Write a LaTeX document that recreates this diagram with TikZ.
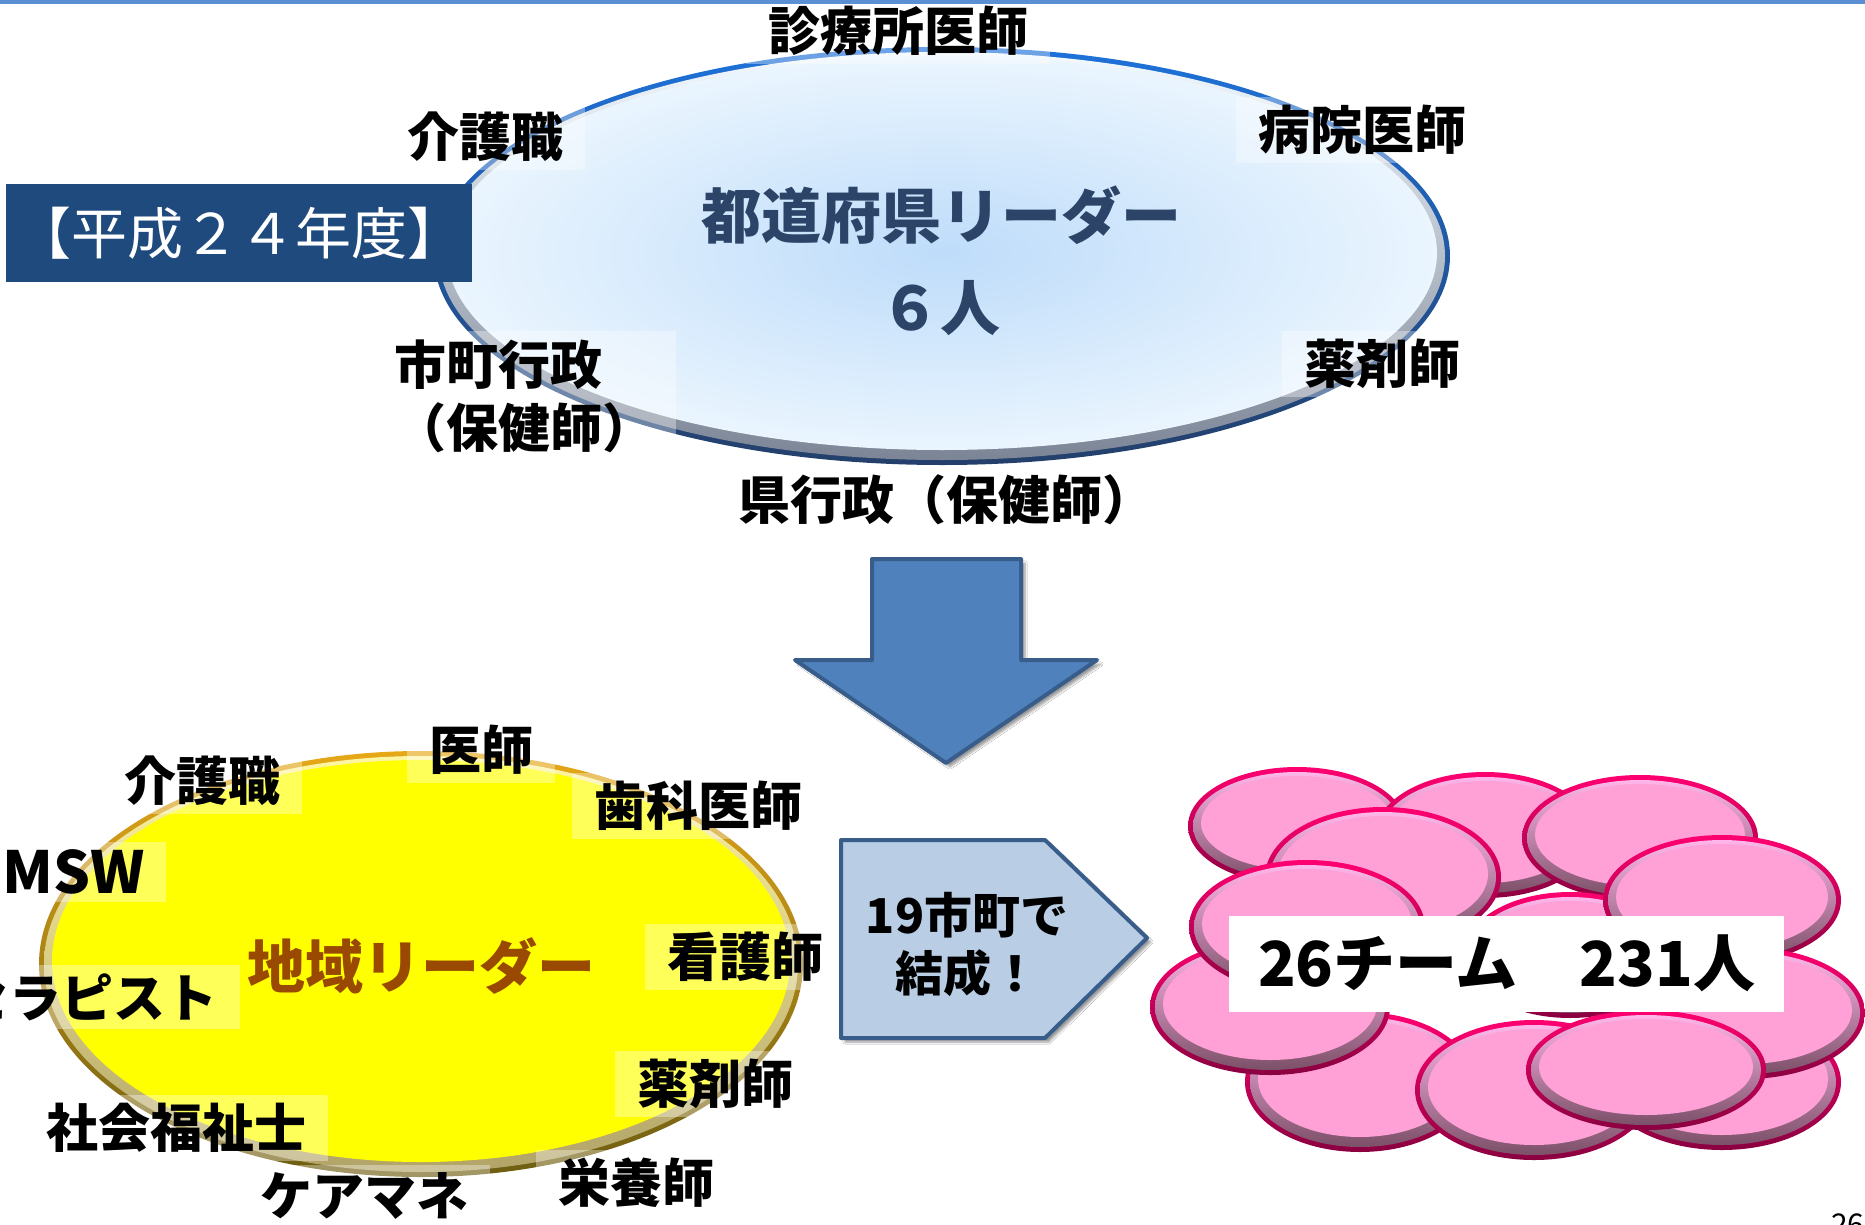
\documentclass[tikz,border=0pt]{standalone}
\usepackage{fontspec}
\setmainfont{Noto Sans CJK JP}
\usetikzlibrary{shadows.blur}
\definecolor{topline}{HTML}{5A8FD4}
\definecolor{blueRimT}{HTML}{1E72DA}
\definecolor{blueRimB}{HTML}{243F6A}
\definecolor{blueBevT}{HTML}{F2F9FF}
\definecolor{blueBevB}{HTML}{7C8596}
\definecolor{blueIn}{HTML}{BEDCFA}
\definecolor{blueOut}{HTML}{EAF5FE}
\definecolor{yelRimT}{HTML}{E6A817}
\definecolor{yelRimB}{HTML}{6E5E12}
\definecolor{yelBevT}{HTML}{FFF6A0}
\definecolor{yelBevB}{HTML}{B2A468}
\definecolor{yelFill}{HTML}{FFFF00}
\definecolor{pinkRimT}{HTML}{FF0070}
\definecolor{pinkRimB}{HTML}{8A0040}
\definecolor{pinkBevT}{HTML}{FFB6EA}
\definecolor{pinkBevB}{HTML}{7C5068}
\definecolor{pinkFill}{HTML}{FFA0D6}
\definecolor{nendo}{HTML}{1F4A7E}
\definecolor{prefText}{HTML}{2B4468}
\definecolor{chiikiText}{HTML}{9A4A00}
\definecolor{arrowFill}{HTML}{4F81BD}
\definecolor{arrowLine}{HTML}{385D8A}
\definecolor{pentFill}{HTML}{B9CDE5}
\newcommand{\bevelell}[6]{%
  \path[top color=#5RimT, bottom color=#5RimB] (#1,#2) ellipse [x radius=#3pt, y radius=#4pt];
  \path[top color=#5BevT, bottom color=#5BevB] (#1,#2) ellipse [x radius=#3pt-5pt, y radius=#4pt-5pt];
  \path[#6] (#1,#2-3) ellipse [x radius=#3pt-13pt, y radius=#4pt-12pt];
}
\newcommand{\pinkell}[4]{\bevelell{#1}{#2}{#3}{#4}{pink}{fill=pinkFill}}
\begin{document}
\begin{tikzpicture}[x=1pt,y=-1pt,
  lbl/.style={font=\bfseries\fontsize{52}{60}\selectfont, text=black, fill=white,
    fill opacity=0.35, text opacity=1, inner xsep=22pt, inner ysep=8pt},
  bigarrow/.style={fill=arrowFill, draw=arrowLine, line width=4pt, line join=round,
    blur shadow={shadow xshift=4pt, shadow yshift=-4pt, shadow opacity=40, shadow blur steps=6}}]
\useasboundingbox (0,0) rectangle (1865,1225);
\fill[white] (0,0) rectangle (1865,1225);

% top ellipse
\bevelell{942}{256}{508}{209}{blue}{inner color=blueIn, outer color=blueOut}
\node[font=\bfseries\fontsize{60}{70}\selectfont, text=prefText] (pref) at (941,215) {都道府県リーダー};
\node[font=\bfseries\fontsize{60}{70}\selectfont, text=prefText] (six) at (940,308) {６人};

\node[lbl] (shinryo) at (898,31) {診療所医師};
\node[lbl] (kaigo1) at (485,137) {介護職};
\node[lbl] (byoin) at (1362,130) {病院医師};
\node[lbl, align=left, anchor=west, font=\bfseries\fontsize{52}{63}\selectfont] (shicho) at (372,396) {市町行政\\（保健師）};
\node[lbl] (yaku1) at (1382,364) {薬剤師};
\node[lbl] (ken) at (946,500) {県行政（保健師）};

\node[fill=nendo, text=white, font=\fontsize{56}{64}\selectfont, minimum width=466pt, minimum height=98pt, inner sep=0pt] (nendo) at (239,233) {【平成２４年度】};

% down arrow
\path[bigarrow] (872,559) -- (1021,559) -- (1021,660) -- (1097,660) -- (946,763) -- (795,660) -- (872,660) -- cycle;

% yellow ellipse
\bevelell{421}{964}{382}{213}{yel}{fill=yelFill}
\node[font=\bfseries\fontsize{58}{66}\selectfont, text=chiikiText] (chiiki) at (421,966) {地域リーダー};

\node[lbl] (ishi) at (481,750) {医師};
\node[lbl] (kaigo2) at (202,781) {介護職};
\node[lbl] (shika) at (698,806) {歯科医師};
\node[lbl, anchor=west, font=\bfseries\fontsize{58}{64}\selectfont] (msw) at (-20,872) {MSW};
\node[lbl, anchor=east] (ther) at (240,997) {セラピスト};
\node[lbl] (kango) at (745,957) {看護師};
\node[lbl] (yaku2) at (715,1084) {薬剤師};
\node[lbl] (shakai) at (176,1128) {社会福祉士};
\node[lbl] (keamane) at (364,1196) {ケアマネ};
\node[lbl] (eiyo) at (636,1183) {栄養師};

% pentagon arrow
\path[bigarrow, fill=pentFill] (841,840) -- (1045,840) -- (1147,938) -- (1045,1038) -- (841,1038) -- cycle;
\node[font=\bfseries\fontsize{48}{58}\selectfont, align=center] (musubi) at (967,945) {19市町で\\結成！};

% pink cluster
\pinkell{1297}{826}{109}{59}
\pinkell{1485}{835}{110}{63}
\pinkell{1640}{838}{118}{63}
\pinkell{1570}{955}{107}{63}
\pinkell{1383}{877}{118}{70}
\pinkell{1722}{900}{119}{65}
\pinkell{1722}{1082}{119}{68}
\pinkell{1745}{1013}{120}{66}
\pinkell{1360}{1082}{115}{70}
\pinkell{1270}{1007}{120}{68}
\pinkell{1307}{927}{118}{67}
\pinkell{1534}{1090}{119}{70}
\pinkell{1646}{1070}{120}{60}

\node[fill=white, minimum width=555pt, minimum height=96pt, inner sep=0pt, font=\bfseries\fontsize{62}{70}\selectfont] (teams) at (1506.5,963.5) {26チーム　231人};

\node[anchor=north west, inner sep=0pt, font=\fontsize{30}{36}\selectfont] (page) at (1831,1214) {26};

\fill[topline] (0,0) rectangle (1865,4);
\end{tikzpicture}
\end{document}
